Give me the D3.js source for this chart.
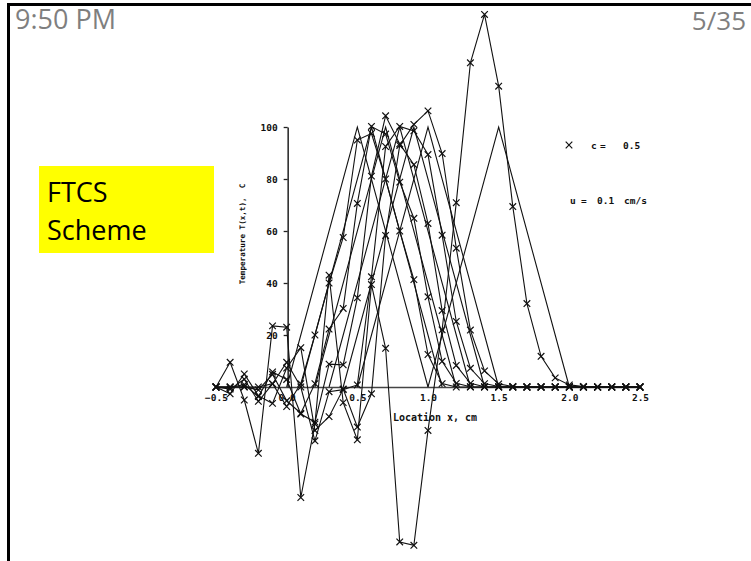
<!DOCTYPE html>
<html><head><meta charset="utf-8">
<script src="https://cdn.jsdelivr.net/npm/d3@7"></script>
<style>html,body{margin:0;padding:0;background:#fff;overflow:hidden}</style>
</head><body>
<svg id="c" width="751" height="561"></svg>
<script>
// Grid locations x (cm)
const locations = [-0.5,-0.4,-0.3,-0.2,-0.1,0.0,0.1,0.2,0.3,0.4,0.5,0.6,0.7,0.8,0.9,1.0,1.1,1.2,1.3,1.4,1.5,1.6,1.7,1.8,1.9,2.0,2.1,2.2,2.3,2.4,2.5];

// FTCS numerical solutions (marked with x)
const ftcsT1  = [0,0,0,0,1.3,-7.5,1.3,20,40,57.5,95,97.5,80,60,41.3,12.5,1.3,0,0,0,0,0,0,0,0,0,0,0,0,0,0];
const ftcsT2  = [0,0,0.1,-1.1,4.9,-5.3,-10.1,1.3,22.3,30.2,70.6,100.2,97.3,78.8,64.9,34.7,9.9,1.4,0.1,0,0,0,0,0,0,0,0,0,0,0,0];
const ftcsT3  = [0,-0.1,0.9,-3.7,5.8,2.9,-10.4,-13.5,8.8,8.5,34.3,81.1,104.3,93.5,85.5,62.9,29.4,8.3,1.4,0.1,0,0,0,0,0,0,0,0,0,0,0];
const ftcsT4  = [0,-0.8,3.0,-5.5,1.2,9.5,0.0,-20.7,-1.8,-1.0,0.8,42.4,92.5,100.2,98.5,89.4,58.4,25.2,7.2,1.3,0.2,0,0,0,0,0,0,0,0,0,0];
const ftcsT5  = [0,-2.6,5.0,-3.4,-6.3,7.3,15.1,-16.7,-11.4,-0.8,-15.4,-2.6,58.3,92.9,101.0,106.2,89.8,53.4,21.9,6.2,1.2,0.2,0,0,0,0,0,0,0,0,0];
const ftcsT10 = [0,9.5,-5.0,-25.5,23.5,23.0,-42.5,-14.2,43.0,-6.0,-20.3,39.4,14.9,-59.6,-60.9,-16.7,22.0,70.9,124.7,143.3,115.7,69.4,32.1,11.8,3.5,0.8,0.2,0,0,0,0];

// Exact solutions (plain lines): triangular pulses, vertices [x, T]
const exact0  = [[0.0,0],[0.5,100],[1.0,0]];
const exact1  = [[0.1,0],[0.6,100],[1.1,0]];
const exact2  = [[0.2,0],[0.7,100],[1.2,0]];
const exact3  = [[0.3,0],[0.8,100],[1.3,0]];
const exact4  = [[0.4,0],[0.9,100],[1.4,0]];
const exact5  = [[0.5,0],[1.0,100],[1.5,0]];
const exact10 = [[1.0,0],[1.5,100],[2.0,0]];

const xTicks = [-0.5,0.0,0.5,1.0,1.5,2.0,2.5];
const yTicks = [20,40,60,80,100];

const svg = d3.select("#c");
const mono = "'DejaVu Sans Mono', 'Liberation Mono', monospace";

// ---- slide decorations ----
svg.append("rect").attr("x",0).attr("y",0).attr("width",751).attr("height",561).attr("fill","#fff");
svg.append("path").attr("d","M8.5,561 V4.5 H751").attr("fill","none").attr("stroke","#000").attr("stroke-width",3);
svg.append("text").attr("x",15).attr("y",29).text("9:50 PM")
  .attr("font-family","'Open Sans', sans-serif").attr("font-size",27).attr("fill","#7f7f7f");
svg.append("text").attr("x",746).attr("y",30).attr("text-anchor","end").text("5/35")
  .attr("font-family","'Open Sans', sans-serif").attr("font-size",26).attr("fill","#7f7f7f");
svg.append("rect").attr("x",39).attr("y",166).attr("width",175).attr("height",87).attr("fill","#ffff00");
svg.append("text").attr("x",47).attr("y",202).text("FTCS")
  .attr("font-family","'Open Sans', sans-serif").attr("font-size",27).attr("fill","#000");
svg.append("text").attr("x",47).attr("y",240).text("Scheme")
  .attr("font-family","'Open Sans', sans-serif").attr("font-size",27).attr("fill","#000");

// ---- scales ----
const x = d3.scaleLinear().domain([-0.5,2.5]).range([216,640]);
const y = d3.scaleLinear().domain([0,100]).range([387,127]);

// ---- axes ----
const xAxis = svg.append("g").attr("transform",`translate(0,${y(0)})`)
  .call(d3.axisBottom(x).tickValues(xTicks).tickSize(0).tickPadding(7).tickFormat(d3.format(".1f")));
xAxis.select(".domain").attr("stroke","#444").attr("stroke-width",1.6);
xAxis.selectAll("text").attr("font-family",mono).attr("font-size",9.5).attr("font-weight","bold").attr("fill","#111");

const yAxis = svg.append("g").attr("transform",`translate(${x(0)+1},0)`)
  .call(d3.axisLeft(y).tickValues(yTicks).tickSize(4).tickSizeOuter(0).tickPadding(6));
yAxis.select(".domain").attr("stroke","#222").attr("stroke-width",1.5);
yAxis.selectAll(".tick line").attr("stroke","#222").attr("stroke-width",1.3);
yAxis.selectAll("text").attr("font-family",mono).attr("font-size",9.5).attr("font-weight","bold").attr("fill","#111");

svg.append("text").attr("transform","translate(245,234) rotate(-90)").attr("text-anchor","middle")
  .attr("font-family",mono).attr("font-size",7.6).attr("font-weight","bold").attr("fill","#111")
  .attr("xml:space","preserve").text("Temperature T(x,t),  C");
svg.append("text").attr("x",393).attr("y",421).attr("font-family",mono).attr("font-size",10)
  .attr("font-weight","bold").attr("fill","#111").attr("textLength",84).text("Location x, cm");

// ---- exact solutions ----
const exactLine = d3.line().x(d=>x(d[0])).y(d=>y(d[1]));
[exact0,exact1,exact2,exact3,exact4,exact5,exact10].forEach(p=>{
  svg.append("path").attr("d",exactLine(p)).attr("fill","none").attr("stroke","#111").attr("stroke-width",1.1);
});

// ---- FTCS solutions ----
const numLine = d3.line().x((d,i)=>x(locations[i])).y(d=>y(d));
const crossPath = "M-3.3,-3.3L3.3,3.3M-3.3,3.3L3.3,-3.3";
[ftcsT1,ftcsT2,ftcsT3,ftcsT4,ftcsT5,ftcsT10].forEach(s=>{
  svg.append("path").attr("d",numLine(s)).attr("fill","none").attr("stroke","#111").attr("stroke-width",1.1);
  svg.append("g").selectAll("path").data(s).join("path")
    .attr("transform",(d,i)=>`translate(${x(locations[i])},${y(d)})`)
    .attr("d",crossPath).attr("stroke","#111").attr("stroke-width",1.2).attr("fill","none");
});

// ---- legend ----
svg.append("path").attr("transform","translate(569,145)").attr("d",crossPath)
  .attr("stroke","#111").attr("stroke-width",1.2);
const lg = {"font-family":mono,"font-size":9.5,"font-weight":"bold","fill":"#111"};
function lt(xp,yp,str){const t=svg.append("text").attr("x",xp).attr("y",yp).text(str);Object.entries(lg).forEach(([k,v])=>t.attr(k,v));return t;}
lt(591,148.5,"c");
lt(600,148.5,"=");
lt(623,148.5,"0.5");
lt(570,203.5,"u");
lt(581,203.5,"=");
lt(597,203.5,"0.1");
lt(624,203.5,"cm/s");
</script>
</body></html>
